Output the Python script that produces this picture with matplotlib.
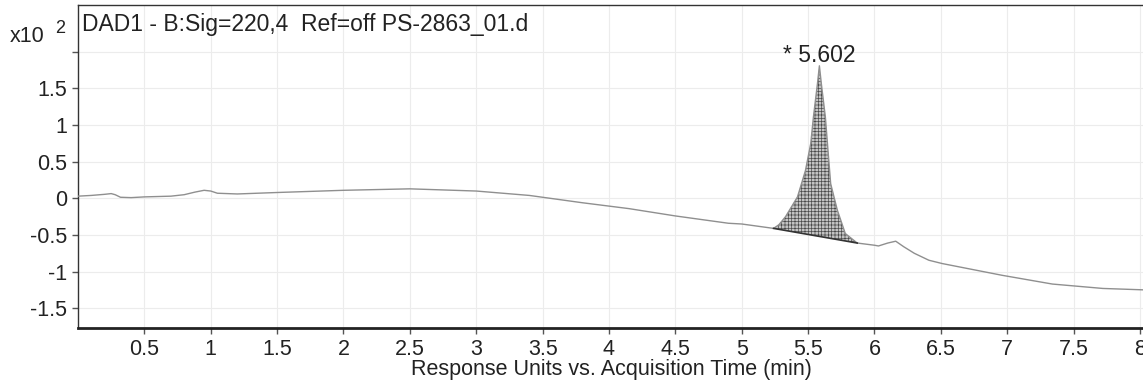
import numpy as np
import matplotlib
matplotlib.use("Agg")
import matplotlib.pyplot as plt

# ---- data ----
time_min = [0.00, 0.10, 0.20, 0.25, 0.28, 0.32, 0.40, 0.50, 0.60, 0.70, 0.80, 0.88,
            0.95, 1.00, 1.05, 1.20, 1.50, 2.00, 2.50, 3.00, 3.40, 3.80, 4.15, 4.50,
            4.90, 5.00, 5.24, 5.28, 5.33, 5.42, 5.48, 5.52, 5.54, 5.57, 5.585, 5.60,
            5.63, 5.65, 5.67, 5.72, 5.78, 5.87, 6.00, 6.03, 6.10, 6.16, 6.22, 6.30,
            6.41, 6.51, 6.96, 7.34, 7.72, 8.04]
response = [0.03, 0.04, 0.055, 0.065, 0.05, 0.015, 0.01, 0.02, 0.025, 0.03, 0.05, 0.085,
            0.11, 0.10, 0.07, 0.06, 0.08, 0.11, 0.13, 0.10, 0.04, -0.06, -0.14, -0.24,
            -0.34, -0.35, -0.41, -0.36, -0.25, 0.02, 0.38, 0.75, 1.11, 1.56, 1.81, 1.56,
            1.11, 0.65, 0.20, -0.16, -0.48, -0.61, -0.64, -0.65, -0.61, -0.585, -0.66, -0.75,
            -0.845, -0.89, -1.05, -1.17, -1.23, -1.25]

peak_start = (5.24, -0.41)
peak_end = (5.87, -0.61)
peak_apex = (5.585, 1.81)
peak_label = "* 5.602"

x_ticks = [0.5, 1, 1.5, 2, 2.5, 3, 3.5, 4, 4.5, 5, 5.5, 6, 6.5, 7, 7.5, 8]
x_ticklabels = ["0.5", "1", "1.5", "2", "2.5", "3", "3.5", "4", "4.5", "5", "5.5",
                "6", "6.5", "7", "7.5", "8"]
y_ticks = [-1.5, -1, -0.5, 0, 0.5, 1, 1.5, 2]
y_ticklabels = ["-1.5", "-1", "-0.5", "0", "0.5", "1", "1.5", ""]

title_text = "DAD1 - B:Sig=220,4  Ref=off PS-2863_01.d"
x_label = "Response Units vs. Acquisition Time (min)"

# ---- figure ----
plt.rcParams["font.family"] = ["Liberation Sans", "DejaVu Sans"]
plt.rcParams["hatch.linewidth"] = 0.5

W, H = 1143, 381
fig = plt.figure(figsize=(W / 100, H / 100), dpi=100)
ax_bottom_px, ax_top_px = 328, 5
ax = fig.add_axes([78 / W, 1 - ax_bottom_px / H, 1 - 78 / W + 0.002,
                   (ax_bottom_px - ax_top_px) / H])

t = np.array(time_min)
r = np.array(response)

ax.set_xlim(0, 8.04)
ax.set_ylim(-1.77, 2.64)

ax.grid(True, color="#ececec", linewidth=0.8)
ax.set_axisbelow(True)

ax.plot(t, r, color="#8f8f8f", linewidth=1.0, zorder=3)

mask = (t >= peak_start[0]) & (t <= peak_end[0])
base = np.interp(t, [peak_start[0], peak_end[0]], [peak_start[1], peak_end[1]])
ax.fill_between(t, base, r, where=mask, facecolor="#c4c4c4", edgecolor="#4a4a4a",
                hatch="+++++", linewidth=0, zorder=2)
ax.plot([peak_start[0], peak_end[0]], [peak_start[1], peak_end[1]],
        color="#333333", linewidth=1.2, zorder=3)

ax.annotate(peak_label, xy=peak_apex, xytext=(0, 3), textcoords="offset points",
            ha="center", va="baseline", fontsize=16.5, color="#222222")

ax.set_xticks(x_ticks)
ax.set_xticklabels(x_ticklabels)
ax.set_yticks(y_ticks)
ax.set_yticklabels(y_ticklabels)
ax.tick_params(axis="both", direction="out", length=4, width=1, color="#555555",
               labelsize=15.5, labelcolor="#222222", pad=4)

for side in ["left", "top"]:
    ax.spines[side].set_color("#333333")
    ax.spines[side].set_linewidth(1.0)
ax.spines["bottom"].set_color("#222222")
ax.spines["bottom"].set_linewidth(2.0)
ax.spines["right"].set_visible(False)

ax.set_xlabel(x_label, fontsize=15.5, color="#222222", va="baseline")
ax.xaxis.set_label_coords(0.5, -(375 - ax_bottom_px) / (ax_bottom_px - ax_top_px))

fig.text(82 / W, 1 - 31 / H, title_text, fontsize=16.5, color="#222222",
         ha="left", va="baseline")
fig.text(10 / W, 1 - 42 / H, "x10", fontsize=15.5, color="#222222",
         ha="left", va="baseline")
fig.text(55 / W, 1 - 33 / H, "2", fontsize=13, color="#222222",
         ha="left", va="baseline")

fig.savefig("out.png", dpi=100)
